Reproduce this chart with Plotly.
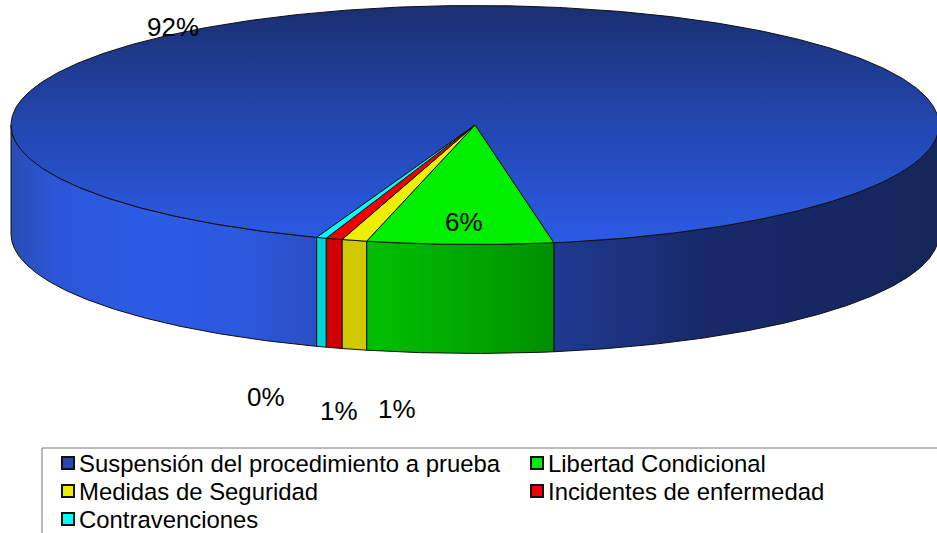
import numpy as np
import plotly.graph_objects as go

# Data
categories = ["Suspensión del procedimiento a prueba", "Libertad Condicional",
              "Medidas de Seguridad", "Incidentes de enfermedad", "Contravenciones"]
values = [91.74, 6.47, 0.875, 0.57, 0.345]
percent_labels = ["92%", "6%", "1%", "1%", "0%"]

top_colors = ["#2c5be6", "#00ee00", "#eeee00", "#f00000", "#00ffff"]
legend_colors = ["#2747b4", "#00ee00", "#eeee00", "#f00000", "#00ffff"]
wall_scales = [
    [[0, "#2a4cb4"], [0.05, "#2b56d8"], [0.15, "#2c5be6"], [0.25, "#2c58de"], [0.33, "#2a4fc2"],
     [0.58, "#1f3a90"], [0.75, "#17296a"], [1, "#14265a"]],
    [[0, "#00c000"], [0.5, "#00aa00"], [1, "#008e00"]],
    [[0, "#d0c800"], [1, "#d0c800"]],
    [[0, "#d00000"], [1, "#d00000"]],
    [[0, "#00d4d8"], [1, "#00d4d8"]],
]
top_scale = [[0, "#192f70"], [0.5, "#2347b0"], [1, "#2c5be6"]]

# Pie geometry (pixel space)
W, H = 937, 533
CX, CY, RX, RY, DEPTH = 475, 125, 464, 119.5, 109
START_ANGLE = 199.95
FONT = "Liberation Sans, Arial, sans-serif"


def ell(a, dy=0.0):
    r = np.radians(a)
    return CX + RX * np.sin(r), CY - RY * np.cos(r) + dy


fractions = np.array(values) / sum(values)
edges = START_ANGLE + np.concatenate([[0], np.cumsum(fractions)]) * 360

fig = go.Figure()


def add_wall(a0, a1, scale, x0=None, x1=None):
    a = np.linspace(a0, a1, 160)
    xt, yt = ell(a)
    xb, yb = ell(a[::-1], DEPTH)
    xs = np.concatenate([xt, xb, xt[:1]])
    ys = np.concatenate([yt, yb, yt[:1]])
    fig.add_trace(go.Scatter(
        x=xs, y=ys, mode="lines", fill="toself",
        line=dict(color="#101010", width=1), hoverinfo="skip", showlegend=False,
        fillgradient=dict(type="horizontal", colorscale=scale,
                          start=x0 if x0 is not None else xs.min(),
                          stop=x1 if x1 is not None else xs.max())))


# Side walls: only the front half (90..270 degrees) is visible
for i, (a0, a1) in enumerate(zip(edges[:-1], edges[1:])):
    for k in (0, 360):
        lo, hi = max(a0 - k, 90), min(a1 - k, 270)
        if hi > lo:
            if i == 0:
                add_wall(lo, hi, wall_scales[i], CX - RX, CX + RX)
            else:
                add_wall(lo, hi, wall_scales[i])

# Top faces
for i, (a0, a1) in enumerate(zip(edges[:-1], edges[1:])):
    a = np.linspace(a0, a1, max(4, int((a1 - a0) * 2)))
    x, y = ell(a)
    xs = np.concatenate([[CX], x, [CX]])
    ys = np.concatenate([[CY], y, [CY]])
    if i == 0:
        fig.add_trace(go.Scatter(
            x=xs, y=ys, mode="lines", fill="toself",
            line=dict(color="#101010", width=1), hoverinfo="skip", showlegend=False,
            fillgradient=dict(type="vertical", colorscale=top_scale, start=CY - RY, stop=CY + RY)))
    else:
        fig.add_trace(go.Scatter(
            x=xs, y=ys, mode="lines", fill="toself", fillcolor=top_colors[i],
            line=dict(color="#101010", width=1), hoverinfo="skip", showlegend=False))

# Percent labels
label_pos = [(173, 27), (464, 222), (397, 409), (339, 411), (266, 397)]
for text, (lx, ly) in zip(percent_labels, label_pos):
    fig.add_annotation(x=lx, y=ly, text=text, showarrow=False,
                       font=dict(family=FONT, size=26, color="#000000"))

# Legend
legend_box = dict(type="rect", x0=42, x1=960, y0=448, y1=560,
                  line=dict(color="#777777", width=1), fillcolor="rgba(0,0,0,0)")
fig.add_shape(**legend_box)
leg_x = [68, 537, 68, 537, 68]
leg_y = [463, 463, 491, 491, 519]
fig.add_trace(go.Scatter(
    x=leg_x, y=leg_y, mode="markers", hoverinfo="skip", showlegend=False,
    marker=dict(symbol="square", size=12, color=legend_colors,
                line=dict(color="#111111", width=2))))
for name, lx, ly in zip(categories, leg_x, leg_y):
    fig.add_annotation(x=lx + 9, y=ly, text=name, showarrow=False, xanchor="left",
                       font=dict(family=FONT, size=23.9, color="#000000"))

fig.update_layout(
    width=W, height=H, margin=dict(l=0, r=0, t=0, b=0),
    paper_bgcolor="#ffffff", plot_bgcolor="#ffffff", showlegend=False,
    xaxis=dict(range=[0, W], visible=False, fixedrange=True),
    yaxis=dict(range=[H, 0], visible=False, fixedrange=True),
)
fig.write_html("out.html", config={"displayModeBar": False},
               post_script="document.body.style.margin='0';document.body.style.overflow='hidden';")
